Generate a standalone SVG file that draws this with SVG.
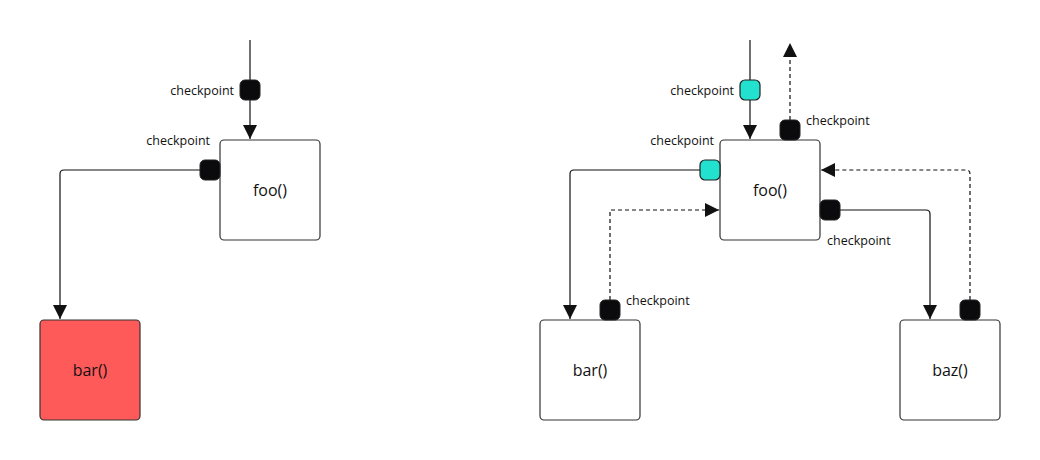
<svg xmlns="http://www.w3.org/2000/svg" width="1040" height="460" viewBox="0 0 1040 460">
<style>
.n{fill:#fff;stroke:#333;stroke-width:1.2}
.t{font-family:"Open Sans","Noto Sans",sans-serif;font-size:16px;fill:#111;text-anchor:middle}
.l{font-family:"Open Sans","Noto Sans",sans-serif;font-size:12.5px;fill:#111}
.c{fill:#0b0b0d;stroke:#222;stroke-width:1}
.cy{fill:#22e2cf;stroke:#222;stroke-width:1.2}
.e{fill:none;stroke:#111;stroke-width:1.2}
.d{stroke-dasharray:4 3}
</style>
<defs><marker id="a" viewBox="0 0 10 10" refX="10" refY="5" markerWidth="14" markerHeight="14" markerUnits="userSpaceOnUse" orient="auto"><path d="M0,0L10,5L0,10z" fill="#111"/></marker></defs>
<g id="connectors">
<path class="e" d="M250,40V139" marker-end="url(#a)"/>
<path class="e" d="M200,170H64Q60,170 60,174V319" marker-end="url(#a)"/>
<path class="e" d="M750,40V139" marker-end="url(#a)"/>
<path class="e" d="M700,170H574Q570,170 570,174V319" marker-end="url(#a)"/>
<path class="e d" d="M610,300V210H719" marker-end="url(#a)"/>
<path class="e d" d="M790,120V43" marker-end="url(#a)"/>
<path class="e" d="M840,210H926Q930,210 930,214V319" marker-end="url(#a)"/>
<path class="e d" d="M970,300V174Q970,170 966,170H821" marker-end="url(#a)"/>
</g>
<g id="foo1"><rect class="n" x="220" y="140" width="100" height="100" rx="4"/><text class="t" x="270" y="196">foo()</text></g>
<g id="bar1"><rect x="40" y="320" width="100" height="100" rx="4" fill="#ff5a5a" stroke="#333" stroke-width="1.2"/><text class="t" x="90" y="376">bar()</text></g>
<g id="foo2"><rect class="n" x="720" y="140" width="100" height="100" rx="4"/><text class="t" x="770" y="196">foo()</text></g>
<g id="bar2"><rect class="n" x="540" y="320" width="100" height="100" rx="4"/><text class="t" x="590" y="376">bar()</text></g>
<g id="baz"><rect class="n" x="900" y="320" width="100" height="100" rx="4"/><text class="t" x="950" y="376">baz()</text></g>
<g id="checkpoints">
<rect class="c" x="240" y="80" width="20" height="20" rx="5"/><text class="l" x="234" y="95" text-anchor="end">checkpoint</text>
<rect class="c" x="200" y="160" width="20" height="20" rx="5"/><text class="l" x="210" y="145" text-anchor="end">checkpoint</text>
<rect class="cy" x="740" y="80" width="20" height="20" rx="5"/><text class="l" x="734" y="95" text-anchor="end">checkpoint</text>
<rect class="cy" x="700" y="160" width="20" height="20" rx="5"/><text class="l" x="714" y="145" text-anchor="end">checkpoint</text>
<rect class="c" x="780" y="120" width="20" height="20" rx="5"/><text class="l" x="806" y="125">checkpoint</text>
<rect class="c" x="820" y="200" width="20" height="20" rx="5"/><text class="l" x="827" y="245">checkpoint</text>
<rect class="c" x="600" y="300" width="20" height="20" rx="5"/><text class="l" x="626" y="305">checkpoint</text>
<rect class="c" x="960" y="300" width="20" height="20" rx="5"/><text class="l" x="960" y="305" display="none"></text>
</g>
</svg>
